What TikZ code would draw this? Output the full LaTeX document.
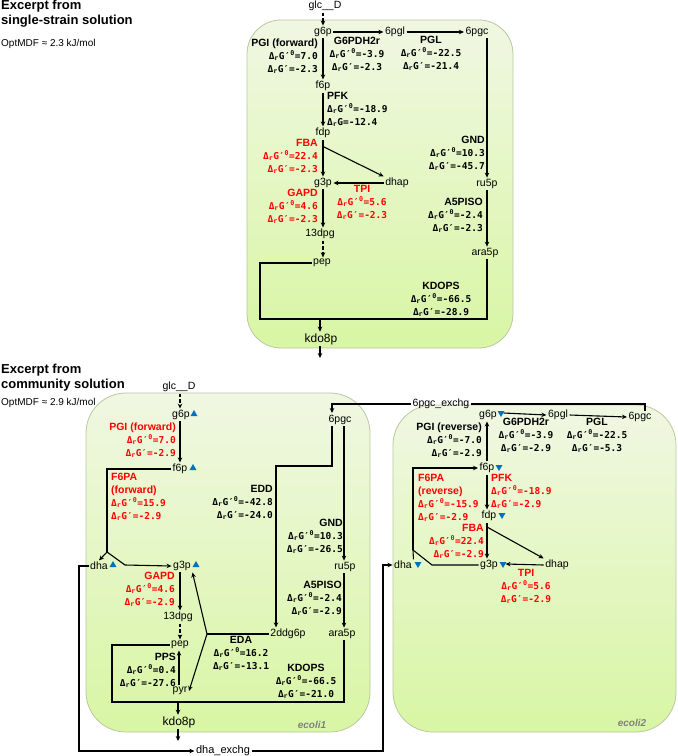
\documentclass[tikz,border=0pt]{standalone}
\usepackage{fontspec}
\setmainfont{Liberation Sans}
\newfontfamily\monof{DejaVu Sans Mono}
\usetikzlibrary{arrows.meta,shapes.geometric,calc}
\definecolor{triblue}{RGB}{0,112,192}
\definecolor{pantop}{RGB}{240,247,226}
\definecolor{panbot}{RGB}{216,246,164}
\definecolor{panline}{RGB}{185,200,160}
\definecolor{tagrey}{RGB}{128,128,128}
\newcommand\Go[1]{{\monof\fontsize{9.5}{13}\selectfont\bfseries Δ\textsubscript{r}G′\textsuperscript{0}=#1}}
\newcommand\Gp[1]{{\monof\fontsize{9.5}{13}\selectfont\bfseries Δ\textsubscript{r}G′=#1}}
\newcommand\Gn[1]{{\monof\fontsize{9.5}{13}\selectfont\bfseries Δ\textsubscript{r}G=#1}}
\tikzset{
  x=1pt, y=-1pt,
  panel/.style={draw=panline, line width=0.8pt, top color=pantop, bottom color=panbot},
  met/.style={inner sep=1.5pt, font=\fontsize{10.5}{12}\selectfont},
  bigmet/.style={inner sep=1.5pt, font=\fontsize{12}{14}\selectfont},
  lab/.style={inner sep=0pt, font=\fontsize{10.5}{13}\selectfont\bfseries},
  labR/.style={lab, align=right, anchor=east},
  labL/.style={lab, align=left, anchor=west},
  labC/.style={lab, align=center},
  rd/.style={text=red},
  head/.style={inner sep=0pt, align=left, anchor=west, font=\fontsize{13}{15}\selectfont\bfseries},
  opt/.style={inner sep=0pt, anchor=west, font=\fontsize{10}{12}\selectfont},
  tag/.style={inner sep=0pt, text=tagrey, font=\fontsize{10}{12}\selectfont\bfseries\itshape},
  ln/.style={line width=1.1pt},
  arr/.style={ln, -{Stealth[length=5pt,width=4.5pt]}},
  dsh/.style={arr, dash pattern=on 3.5pt off 2pt},
  tup/.style={regular polygon, regular polygon sides=3, fill=triblue, inner sep=0pt, minimum size=8pt},
  tdn/.style={tup, shape border rotate=180},
}
\begin{document}
\begin{tikzpicture}
\useasboundingbox (0,0) rectangle (678,756);
% ---------- headings
\node[head] (h1) at (1,14) {Excerpt from\\single-strain solution};
\node[opt] (o1) at (1,43.5) {OptMDF ≈ 2.3 kJ/mol};
\node[head] (h2) at (1,378) {Excerpt from\\community solution};
\node[opt] (o2) at (1,403) {OptMDF ≈ 2.9 kJ/mol};
% ---------- panels
\path[panel, rounded corners=34pt] (247,20) rectangle (513,348);
\path[panel, rounded corners=40pt] (86,393) rectangle (370,732);
\path[panel, rounded corners=40pt] (393,405) rectangle (676,732);
\node[tag] (t1) at (312,725) {ecoli1};
\node[tag] (t2) at (632,723) {ecoli2};

% ================= TOP PANEL
\node[met] (glcA) at (325,6) {glc\_\_D};
\node[met] (g6pA) at (323,32) {g6p};
\node[met] (pglA) at (395,32) {6pgl};
\node[met] (pgcA) at (477,32) {6pgc};
\node[met] (f6pA) at (323,86) {f6p};
\node[met] (fdpA) at (323,133) {fdp};
\node[met] (g3pA) at (323,183) {g3p};
\node[met] (dhapA) at (397,183) {dhap};
\node[met] (ru5pA) at (487,184) {ru5p};
\node[met] (dpgA) at (320,234) {13dpg};
\node[met] (pepA) at (322,263) {pep};
\node[met] (ara5pA) at (485,253) {ara5p};
\node[bigmet] (kdoA) at (321,339) {kdo8p};

\draw[dsh] (glcA.south -| g6pA.north) -- (g6pA.north);
\draw[arr] (g6pA.east) -- (pglA.west);
\draw[arr] (pglA.east) -- (pgcA.west);
\draw[arr] (g6pA.south) -- (f6pA.north);
\draw[arr] (f6pA.south) -- (fdpA.north);
\draw[arr] (fdpA.south) -- (g3pA.north);
\coordinate (fbaA) at (322,146);
\draw[arr] (fbaA) -- (dhapA.north west);
\draw[arr] (dhapA.west) -- (g3pA.east);
\draw[arr] (g3pA.south) -- (dpgA.north -| g3pA.south);
\draw[dsh] (dpgA.south -| g3pA.south) -- (pepA.north -| g3pA.south);
\draw[arr] (pgcA.south -| ru5pA.north) -- (ru5pA.north);
\draw[arr] (ru5pA.south) -- (ru5pA.south |- ara5pA.north);
\coordinate (kLA) at (260,319);
\coordinate (kRA) at (487,319);
\coordinate (kMA) at (320,319);
\coordinate (outA) at (320,358);
\draw[ln] (pepA.west) -| (kLA) -- (kRA) -- (kRA |- ara5pA.south);
\draw[arr] (kMA) -- (kMA |- kdoA.north);
\draw[arr] (kdoA.south -| kMA) -- (outA);

\node[labR] (lPGIA) at (318,56.5) {PGI (forward)\\\Go{7.0}\\\Gp{-2.3}};
\node[labC] (lG6A) at (357,54) {G6PDH2r\\\Go{-3.9}\\\Gp{-2.3}};
\node[labC] (lPGLA) at (431,53) {PGL\\\Go{-22.5}\\\Gp{-21.4}};
\node[labL] (lPFKA) at (327,109.5) {PFK\\\Go{-18.9}\\\Gn{-12.4}};
\node[labR, rd] (lFBAA) at (318,156.5) {FBA\\\Go{22.4}\\\Gp{-2.3}};
\node[labR] (lGNDA) at (485,153.5) {GND\\\Go{10.3}\\\Gp{-45.7}};
\node[labC, rd] (lTPIA) at (362,202.5) {TPI\\\Go{5.6}\\\Gp{-2.3}};
\node[labR, rd] (lGAPDA) at (318,206.5) {GAPD\\\Go{4.6}\\\Gp{-2.3}};
\node[labR] (lA5A) at (483,215) {A5PISO\\\Go{-2.4}\\\Gp{-2.3}};
\node[labC] (lKDA) at (441,299) {KDOPS\\\Go{-66.5}\\\Gp{-28.9}};

% ================= BOTTOM LEFT (ecoli1)
\node[met] (glcB) at (179,387) {glc\_\_D};
\node[met] (g6pB) at (181,415) {g6p};
\node[tup] (tg6pB) at (194,414) {};
\node[met] (f6pB) at (180,469) {f6p};
\node[tup] (tf6pB) at (193,468) {};
\node[met] (dhaB) at (99,566) {dha};
\node[tup] (tdhaB) at (113,565) {};
\node[met] (g3pB) at (182,566) {g3p};
\node[tup] (tg3pB) at (196,565) {};
\node[met] (dpgB) at (178,617) {13dpg};
\node[met] (pepB) at (180,645) {pep};
\node[met] (pyrB) at (180,691) {pyr};
\node[met] (ddgB) at (288,634) {2ddg6p};
\node[met] (ara5pB) at (342,634) {ara5p};
\node[bigmet] (kdoB) at (179,722) {kdo8p};
\node[met, font=\fontsize{11}{13}\selectfont] (dhaex) at (223,751) {dha\_exchg};
\node[met] (pgcB) at (340,420) {6pgc};
\node[met] (ru5pB) at (345,567) {ru5p};

\draw[dsh] (glcB.south -| 180,0) -- (g6pB.north -| 180,0);
\draw[arr] (g6pB.south -| 180,0) -- (f6pB.north -| 180,0);
\coordinate (j1) at (107,552);
\coordinate (j1b) at (125,565);
\draw[ln] (f6pB.west) -| (j1);
\draw[arr] (j1) -- (dhaB.north);
\draw[arr] (j1) -- (j1b) -- (g3pB.west);
\draw[arr] (g3pB.south -| 180,0) -- (dpgB.north -| 180,0);
\draw[dsh] (dpgB.south -| 180,0) -- (pepB.north -| 180,0);
\draw[arr] (pyrB.north -| 179,0) -- (pepB.south -| 179,0);
\coordinate (j2) at (207,634);
\draw[ln] (ddgB.west) -- (j2);
\draw[arr] (j2) -- (g3pB.south east);
\draw[arr] (j2) -- (pyrB.east);
\coordinate (e1) at (332,466);
\coordinate (e2) at (276,466);
\draw[arr] (pgcB.south -| e1) -- (e1) -- (e2) -- (e2 |- ddgB.north);
\draw[arr] (pgcB.south -| 344,0) -- (ru5pB.north -| 344,0);
\draw[arr] (ru5pB.south -| 344,0) -- (ara5pB.north -| 344,0);
\coordinate (kLB) at (112,702);
\coordinate (kRB) at (344,702);
\coordinate (kMB) at (178,702);
\coordinate (outB) at (178,741);
\draw[ln] (pepB.west) -| (kLB) -- (kRB) -- (kRB |- ara5pB.south);
\draw[arr] (kMB) -- (kMB |- kdoB.north);
\draw[arr] (kdoB.south -| kMB) -- (outB);

\node[labR, rd] (lPGIB) at (176,440) {PGI (forward)\\\Go{7.0}\\\Gp{-2.9}};
\node[labL, rd] (lF6B) at (111,496.5) {F6PA\\(forward)\\\Go{15.9}\\\Gp{-2.9}};
\node[labR, rd] (lGAPDB) at (175,589) {GAPD\\\Go{4.6}\\\Gp{-2.9}};
\node[labR] (lEDDB) at (273,502) {EDD\\\Go{-42.8}\\\Gp{-24.0}};
\node[labR] (lGNDB) at (343,536) {GND\\\Go{10.3}\\\Gp{-26.5}};
\node[labR] (lA5B) at (342,598) {A5PISO\\\Go{-2.4}\\\Gp{-2.9}};
\node[labC] (lEDAB) at (241,653) {EDA\\\Go{16.2}\\\Gp{-13.1}};
\node[labR] (lPPSB) at (176,670.5) {PPS\\\Go{0.4}\\\Gp{-27.6}};
\node[labC] (lKDB) at (306,681.5) {KDOPS\\\Go{-66.5}\\\Gp{-21.0}};

% ================= BOTTOM RIGHT (ecoli2)
\node[met] (g6pC) at (488,415) {g6p};
\node[tdn] (tg6pC) at (501,413) {};
\node[met] (pglC) at (558,415) {6pgl};
\node[met] (pgcC) at (640,417) {6pgc};
\node[met] (f6pC) at (487,468) {f6p};
\node[tdn] (tf6pC) at (499,467) {};
\node[met] (fdpC) at (489,516) {fdp};
\node[tdn] (tfdpC) at (502,515) {};
\node[met] (g3pC) at (489,565) {g3p};
\node[tdn] (tg3pC) at (503,564) {};
\node[met] (dhapC) at (557,565) {dhap};
\node[met] (dhaC) at (403,565) {dha};
\node[tdn] (tdhaC) at (418,564) {};
\node[met] (pgcex) at (441,404) {6pgc\_exchg};

\draw[arr] (tg6pC.east) -- (pglC.west);
\draw[arr] (pglC.east) -- (pgcC.west);
\draw[arr] (f6pC.north) -- (g6pC.south -| f6pC.north);
\draw[arr] (f6pC.south) -- (fdpC.north -| f6pC.south);
\draw[arr] (fdpC.south -| f6pC.south) -- (g3pC.north -| f6pC.south);
\coordinate (fbaC) at (487,527);
\draw[arr] (fbaC) -- (dhapC.north west);
\draw[arr] (dhapC.west) -- (tg3pC.east);
\coordinate (j3) at (413,550);
\coordinate (j3b) at (432,565);
\draw[ln] (j3) -- (dhaC.north east);
\draw[ln] (g3pC.west) -- (j3b) -- (j3);
\draw[arr] (j3) |- (f6pC.west);

% exchanges
\coordinate (x1) at (79,566);
\coordinate (x2) at (79,751);
\coordinate (x3) at (383,751);
\coordinate (x4) at (383,565);
\draw[arr] (dhaB.west) -- (x1) -- (x2) -- (dhaex.west);
\draw[arr] (dhaex.east) -- (x3) -- (x4) -- (dhaC.west);
\coordinate (e9) at (645,411);
\coordinate (e0) at (332,413);
\draw[ln] (e9) |- (pgcex.east);
\draw[arr] (pgcex.west) -| (e0);

\node[labR] (lPGIC) at (482,440) {PGI (reverse)\\\Go{-7.0}\\\Gp{-2.9}};
\node[labC] (lG6C) at (526,435.5) {G6PDH2r\\\Go{-3.9}\\\Gp{-2.9}};
\node[labC] (lPGLC) at (597,435) {PGL\\\Go{-22.5}\\\Gp{-5.3}};
\node[labL, rd] (lF6C) at (418,497.5) {F6PA\\(reverse)\\\Go{-15.9}\\\Gp{-2.9}};
\node[labL, rd] (lPFKC) at (491,491) {PFK\\\Go{-18.9}\\\Gp{-2.9}};
\node[labR, rd] (lFBAC) at (484,541) {FBA\\\Go{22.4}\\\Gp{-2.9}};
\node[labC, rd] (lTPIC) at (526,586) {TPI\\\Go{5.6}\\\Gp{-2.9}};
\end{tikzpicture}
\end{document}
